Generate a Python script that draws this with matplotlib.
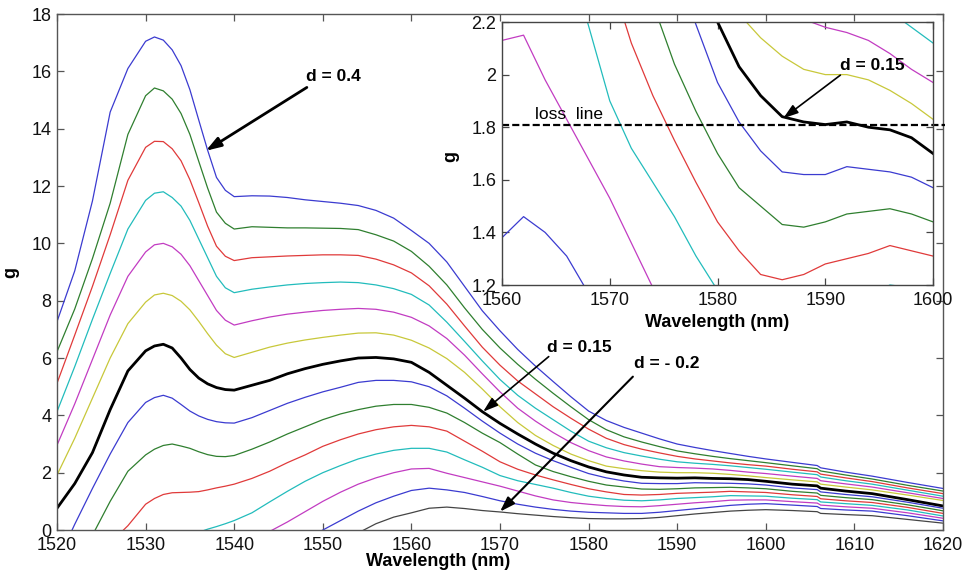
import numpy as np
import matplotlib.pyplot as plt
from matplotlib.ticker import FuncFormatter

plt.rcParams['font.family'] = ['Liberation Sans', 'DejaVu Sans']

# ---- data (gain g vs wavelength, 14 values of d) ----
wavelength = [1520, 1522, 1524, 1526, 1528, 1530,
              1531, 1532, 1533, 1534, 1535, 1536, 1537, 1538, 1539, 1540,
              1542, 1544, 1546, 1548, 1550, 1552, 1554, 1556, 1558, 1560,
              1562, 1564, 1566, 1568, 1570, 1572, 1574, 1576, 1578, 1580,
              1582, 1584, 1586, 1588, 1590, 1592, 1594, 1596, 1598, 1600,
              1603, 1605.8, 1606.2, 1609, 1612, 1616, 1620]

g01 = [7.27, 9.04, 11.48, 14.58, 16.10, 17.05,
       17.20, 17.09, 16.75, 16.20, 15.36, 14.30, 13.25, 12.30, 11.85, 11.63,
       11.66, 11.65, 11.60, 11.52, 11.46, 11.40, 11.32, 11.15, 10.88, 10.45,
       10.00, 9.35, 8.50, 7.65, 6.95, 6.30, 5.72, 5.18, 4.65, 4.15,
       3.82, 3.58, 3.38, 3.18, 3.00, 2.88, 2.77, 2.67, 2.57, 2.48,
       2.36, 2.25, 2.17, 2.02, 1.88, 1.66, 1.45]
g02 = [6.22, 7.71, 9.47, 11.40, 13.80, 15.15,
       15.42, 15.32, 15.03, 14.53, 13.80, 12.86, 11.93, 11.09, 10.70, 10.50,
       10.58, 10.56, 10.54, 10.54, 10.53, 10.52, 10.48, 10.30, 10.08, 9.72,
       9.20, 8.55, 7.75, 7.00, 6.35, 5.78, 5.26, 4.77, 4.30, 3.85,
       3.50, 3.25, 3.07, 2.91, 2.76, 2.66, 2.57, 2.49, 2.42, 2.35,
       2.24, 2.14, 2.06, 1.92, 1.78, 1.56, 1.36]
g03 = [5.12, 6.80, 8.50, 10.30, 12.20, 13.35,
       13.56, 13.55, 13.30, 12.88, 12.22, 11.42, 10.60, 9.90, 9.55, 9.40,
       9.50, 9.53, 9.56, 9.58, 9.60, 9.60, 9.58, 9.45, 9.25, 8.97,
       8.52, 7.88, 7.12, 6.38, 5.75, 5.20, 4.75, 4.30, 3.90, 3.52,
       3.20, 2.98, 2.82, 2.69, 2.57, 2.48, 2.41, 2.34, 2.28, 2.23,
       2.12, 2.03, 1.95, 1.82, 1.69, 1.47, 1.27]
g04 = [4.13, 5.70, 7.35, 8.95, 10.50, 11.50,
       11.75, 11.80, 11.60, 11.30, 10.80, 10.15, 9.50, 8.85, 8.45, 8.28,
       8.40, 8.48, 8.55, 8.60, 8.63, 8.65, 8.63, 8.55, 8.42, 8.22,
       7.85, 7.25, 6.58, 5.90, 5.25, 4.70, 4.25, 3.85, 3.45, 3.10,
       2.87, 2.70, 2.58, 2.47, 2.38, 2.33, 2.29, 2.24, 2.18, 2.12,
       2.02, 1.93, 1.85, 1.72, 1.60, 1.39, 1.18]
g05 = [2.96, 4.40, 5.95, 7.50, 8.85, 9.70,
       9.95, 10.00, 9.88, 9.62, 9.22, 8.70, 8.18, 7.66, 7.32, 7.15,
       7.30, 7.43, 7.53, 7.60, 7.66, 7.70, 7.73, 7.70, 7.60, 7.42,
       7.12, 6.68, 6.10, 5.45, 4.82, 4.25, 3.80, 3.40, 3.05, 2.77,
       2.55, 2.41, 2.30, 2.21, 2.18, 2.16, 2.13, 2.08, 2.02, 1.97,
       1.88, 1.80, 1.72, 1.61, 1.50, 1.30, 1.10]
g06 = [1.92, 3.20, 4.60, 6.00, 7.20, 7.95,
       8.20, 8.26, 8.18, 7.98, 7.68, 7.28, 6.85, 6.45, 6.15, 6.02,
       6.20, 6.38, 6.52, 6.63, 6.72, 6.80, 6.87, 6.88, 6.80, 6.62,
       6.35, 5.98, 5.50, 4.92, 4.30, 3.75, 3.30, 2.95, 2.65, 2.42,
       2.23, 2.14, 2.07, 2.02, 2.00, 2.00, 1.98, 1.94, 1.89, 1.83,
       1.75, 1.68, 1.60, 1.50, 1.40, 1.22, 1.03]
g07 = [0.76, 1.62, 2.70, 4.20, 5.55, 6.25,
       6.42, 6.48, 6.35, 6.00, 5.60, 5.30, 5.10, 4.97, 4.90, 4.88,
       5.05, 5.22, 5.45, 5.63, 5.78, 5.90, 6.00, 6.02, 5.97, 5.85,
       5.50, 5.05, 4.60, 4.13, 3.72, 3.35, 3.00, 2.68, 2.42, 2.20,
       2.03, 1.92, 1.84, 1.82, 1.81, 1.82, 1.80, 1.79, 1.76, 1.70,
       1.60, 1.54, 1.46, 1.36, 1.27, 1.06, 0.84]
g08 = [-1.13, 0.20, 1.45, 2.65, 3.75, 4.45,
       4.62, 4.70, 4.60, 4.38, 4.15, 3.98, 3.86, 3.78, 3.74, 3.73,
       3.92, 4.17, 4.42, 4.63, 4.82, 4.98, 5.15, 5.22, 5.22, 5.17,
       5.00, 4.68, 4.25, 3.80, 3.38, 3.00, 2.68, 2.42, 2.19, 1.97,
       1.82, 1.71, 1.63, 1.62, 1.62, 1.65, 1.64, 1.63, 1.61, 1.57,
       1.47, 1.41, 1.33, 1.24, 1.16, 0.97, 0.76]
g09 = [None, None, -0.18, 1.00, 2.05, 2.62,
       2.82, 2.95, 3.00, 2.93, 2.85, 2.73, 2.63, 2.57, 2.56, 2.60,
       2.82, 3.07, 3.35, 3.60, 3.85, 4.05, 4.20, 4.32, 4.38, 4.38,
       4.28, 4.08, 3.75, 3.38, 3.05, 2.65, 2.27, 2.04, 1.86, 1.70,
       1.57, 1.50, 1.43, 1.42, 1.44, 1.47, 1.48, 1.49, 1.47, 1.44,
       1.35, 1.29, 1.21, 1.13, 1.06, 0.88, 0.67]
g10 = [None, None, None, -0.45, 0.15, 0.90,
       1.10, 1.24, 1.30, 1.31, 1.32, 1.34, 1.40, 1.47, 1.53, 1.60,
       1.80, 2.05, 2.35, 2.62, 2.92, 3.15, 3.35, 3.50, 3.60, 3.65,
       3.60, 3.45, 3.10, 2.75, 2.38, 2.12, 1.92, 1.75, 1.59, 1.44,
       1.33, 1.24, 1.22, 1.24, 1.28, 1.30, 1.32, 1.35, 1.33, 1.31,
       1.23, 1.17, 1.09, 1.02, 0.96, 0.79, 0.58]
g11 = [None, None, None, None, None, None,
       None, None, None, None, None, -0.08, 0.03, 0.12, 0.22, 0.33,
       0.60, 0.98, 1.35, 1.70, 2.00, 2.25, 2.48, 2.65, 2.78, 2.85,
       2.85, 2.72, 2.45, 2.19, 1.90, 1.72, 1.59, 1.46, 1.31, 1.18,
       1.10, 1.04, 1.02, 1.05, 1.10, 1.13, 1.16, 1.20, 1.19, 1.18,
       1.11, 1.06, 0.98, 0.92, 0.86, 0.70, 0.49]
g12 = [None, None, None, None, None, None,
       None, None, None, None, None, None, None, None, None, None,
       None, -0.05, 0.28, 0.64, 1.00, 1.32, 1.60, 1.82, 2.00, 2.13,
       2.15, 1.98, 1.83, 1.68, 1.53, 1.36, 1.19, 1.05, 0.96, 0.90,
       0.85, 0.82, 0.81, 0.85, 0.90, 0.95, 0.99, 1.04, 1.05, 1.05,
       0.99, 0.94, 0.87, 0.81, 0.76, 0.60, 0.41]
g13 = [None, None, None, None, None, None,
       None, None, None, None, None, None, None, None, None, None,
       None, None, None, -0.35, 0.00, 0.33, 0.66, 0.95, 1.18, 1.38,
       1.46, 1.40, 1.31, 1.17, 1.02, 0.90, 0.80, 0.72, 0.66, 0.62,
       0.60, 0.58, 0.58, 0.62, 0.68, 0.74, 0.80, 0.86, 0.90, 0.92,
       0.87, 0.82, 0.75, 0.70, 0.66, 0.50, 0.32]
g14 = [None, None, None, None, None, None,
       None, None, None, None, None, None, None, None, None, None,
       None, None, None, None, None, None, -0.10, 0.22, 0.45, 0.60,
       0.76, 0.80, 0.75, 0.68, 0.63, 0.57, 0.52, 0.47, 0.43, 0.40,
       0.39, 0.39, 0.40, 0.44, 0.50, 0.56, 0.61, 0.66, 0.69, 0.71,
       0.68, 0.64, 0.58, 0.54, 0.50, 0.37, 0.24]

curves = [g01, g02, g03, g04, g05, g06, g07, g08, g09, g10, g11, g12, g13, g14]
loss_level = 1.81

# MATLAB-ish colour order, as it looks in the scanned figure
colors = ['#3b3bd0', '#2f7f2f', '#e03a3a', '#22bcbc', '#c23cc2', '#c8c83a', '#000000',
          '#3b3bd0', '#2f7f2f', '#e03a3a', '#22bcbc', '#c23cc2', '#3b3bd0', '#454545']
widths = [0.9] * 6 + [2.0] + [0.9] * 7

fig = plt.figure(figsize=(9.63, 5.73), dpi=100)

########################################
# main panel
ax = fig.add_axes([0.0592, 0.0750, 0.9200, 0.9005])
for g, c, w in zip(curves, colors, widths):
    ax.plot(wavelength, np.array(g, dtype=float), color=c, lw=w)

ax.set_xlim(1520, 1620)
ax.set_ylim(0, 18)
ax.set_xticks(np.arange(1520, 1621, 10))
ax.set_yticks(np.arange(0, 19, 2))
ax.tick_params(direction='in', top=True, right=True, length=5, width=0.9,
               labelsize=13, color='#555555', labelcolor='#111111')
ax.tick_params(axis='x', pad=5)
ax.tick_params(axis='y', pad=4)
for s in ax.spines.values():
    s.set_color('#555555')
    s.set_linewidth(1.0)
ax.set_xlabel('Wavelength (nm)', fontsize=13, fontweight='bold')
ax.xaxis.set_label_coords(0.43, -0.044)
ax.set_ylabel('g', fontsize=13, fontweight='bold')
ax.yaxis.set_label_coords(-0.043, 0.5)

arrow = dict(arrowstyle='-|>,head_length=0.9,head_width=0.3', color='k',
             shrinkA=0, shrinkB=0)
ax.text(1551.2, 15.83, 'd = 0.4', fontsize=12.5, fontweight='bold', ha='center', va='center')
ax.annotate('', xy=(1536.8, 13.23), xytext=(1548.2, 15.44), arrowprops=dict(arrow, lw=2.0))
ax.text(1579.0, 6.35, 'd = 0.15', fontsize=12.5, fontweight='bold', ha='center', va='center')
ax.annotate('', xy=(1568.1, 4.13), xytext=(1575.5, 6.05), arrowprops=dict(arrow, lw=1.2))
ax.text(1588.8, 5.82, 'd = - 0.2', fontsize=12.5, fontweight='bold', ha='center', va='center')
ax.annotate('', xy=(1570.0, 0.64), xytext=(1585.0, 5.35), arrowprops=dict(arrow, lw=1.5))

########################################
# inset panel
axi = fig.add_axes([0.5213, 0.5026, 0.4476, 0.4590])
for g, c, w in zip(curves, colors, widths):
    axi.plot(wavelength, np.array(g, dtype=float), color=c, lw=w)
axi.plot([1560, 1601.1], [loss_level, loss_level], color='k', lw=1.6,
         dashes=(3.2, 1.4), clip_on=False)

axi.set_xlim(1560, 1600)
axi.set_ylim(1.2, 2.2)
axi.set_xticks(np.arange(1560, 1601, 10))
axi.set_yticks([1.2, 1.4, 1.6, 1.8, 2.0, 2.2])
axi.yaxis.set_major_formatter(FuncFormatter(lambda v, p: '%g' % round(v, 1)))
axi.tick_params(direction='in', top=True, right=True, length=5, width=0.9,
                labelsize=13, color='#444444', labelcolor='#111111')
axi.tick_params(axis='x', pad=5)
axi.tick_params(axis='y', pad=4)
for s in axi.spines.values():
    s.set_color('#444444')
    s.set_linewidth(1.0)
axi.set_xlabel('Wavelength (nm)', fontsize=13, fontweight='bold')
axi.xaxis.set_label_coords(0.5, -0.112)
axi.set_ylabel('g', fontsize=13, fontweight='bold')
axi.yaxis.set_label_coords(-0.1, 0.49)

axi.text(1566.2, 1.848, 'loss  line', fontsize=12.5, ha='center', va='center')
axi.text(1594.4, 2.035, 'd = 0.15', fontsize=12.5, fontweight='bold', ha='center', va='center')
axi.annotate('', xy=(1586.1, 1.834), xytext=(1591.4, 1.998), arrowprops=dict(arrow, lw=1.2))

fig.savefig('out.png', dpi=100)
